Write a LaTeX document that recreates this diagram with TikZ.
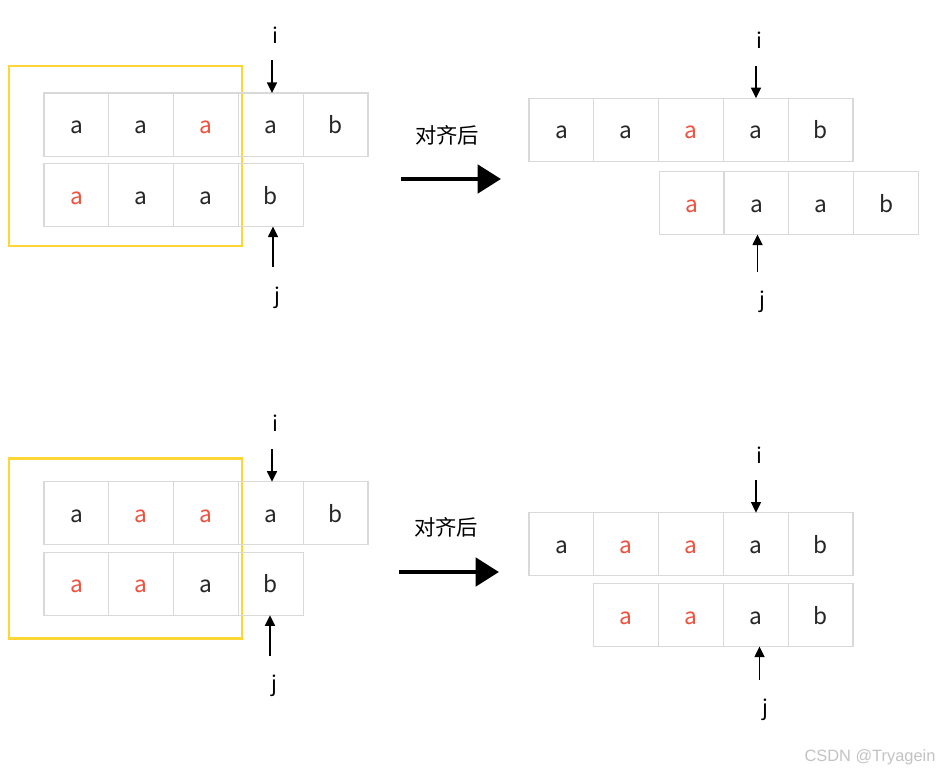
\documentclass[tikz,border=0pt]{standalone}
\usepackage{fontspec}
\setmainfont{Noto Sans CJK SC}
\newfontfamily\wmfont{Liberation Sans}
\usetikzlibrary{arrows.meta}
\definecolor{gridgray}{RGB}{217,217,217}
\definecolor{hlred}{RGB}{240,80,60}
\definecolor{boxyellow}{RGB}{255,214,51}
\definecolor{wmgray}{RGB}{195,195,195}
\tikzset{
  cell/.style={draw=gridgray, line width=0.8pt, minimum width=48.6pt, minimum height=47.3pt, inner sep=0pt, outer sep=0pt,
    text height=15pt, text depth=1.5pt, font=\fontsize{17}{20}\selectfont, text=black!85},
  red/.style={text=hlred},
  lbl/.style={font=\fontsize{16}{19}\selectfont, inner sep=0pt},
  ptr/.style={line width=1.2pt, -{Stealth[length=8pt,width=7.5pt,inset=0pt]}},
  bigarrow/.style={line width=3.6pt, -{Triangle[length=17.5pt,width=21pt]}},
  hlbox/.style={draw=boxyellow, line width=1.6pt},
}
\begin{document}
\begin{tikzpicture}[x=0.75pt,y=-0.75pt]
\useasboundingbox (0,0) rectangle (939,772);
\fill[white] (0,0) rectangle (939,772);

% ---------- Panel 1 ----------
\draw[hlbox] (9,66) rectangle (242,246);
\node[cell] (p1a1) at (76.4,124.5) {a};
\node[cell] (p1a2) at (141.2,124.5) {a};
\node[cell,red] (p1a3) at (206,124.5) {a};
\node[cell] (p1a4) at (270.8,124.5) {a};
\node[cell] (p1a5) at (335.6,124.5) {b};
\node[cell,red] (p1b1) at (76.4,195) {a};
\node[cell] (p1b2) at (141.2,195) {a};
\node[cell] (p1b3) at (206,195) {a};
\node[cell] (p1b4) at (270.8,195) {b};
\node[lbl] (p1i) at (275,35) {i};
\node[lbl] (p1j) at (277,298) {j};
\coordinate (p1is) at (272,60);
\coordinate (p1js) at (273,267);
\draw[ptr] (p1is) -- (p1is |- p1a4.north);
\draw[ptr] (p1js) -- (p1js |- p1b4.south);

% ---------- Arrow 1 ----------
\node[lbl] (t1) at (447,135) {对齐后};
\coordinate (a1s) at (401,179);
\coordinate (a1e) at (501,179);
\draw[bigarrow] (a1s) -- (a1e);

% ---------- Panel 2 ----------
\node[cell] (p2a1) at (561.4,129.8) {a};
\node[cell] (p2a2) at (626.2,129.8) {a};
\node[cell,red] (p2a3) at (691,129.8) {a};
\node[cell] (p2a4) at (755.8,129.8) {a};
\node[cell] (p2a5) at (820.6,129.8) {b};
\node[cell,red] (p2b1) at (691.6,203) {a};
\node[cell] (p2b2) at (756.4,203) {a};
\node[cell] (p2b3) at (821.2,203) {a};
\node[cell] (p2b4) at (886,203) {b};
\node[lbl] (p2i) at (759.5,40) {i};
\node[lbl] (p2j) at (762.5,302) {j};
\coordinate (p2is) at (756,66);
\coordinate (p2js) at (757.5,272);
\draw[ptr] (p2is) -- (p2is |- p2a4.north);
\draw[ptr] (p2js) -- (p2js |- p2b2.south);

% ---------- Panel 3 ----------
\draw[hlbox] (9,458.5) rectangle (242,638.5);
\node[cell] (p3a1) at (76.4,513.3) {a};
\node[cell,red] (p3a2) at (141.2,513.3) {a};
\node[cell,red] (p3a3) at (206,513.3) {a};
\node[cell] (p3a4) at (270.8,513.3) {a};
\node[cell] (p3a5) at (335.6,513.3) {b};
\node[cell,red] (p3b1) at (76.4,583.7) {a};
\node[cell,red] (p3b2) at (141.2,583.7) {a};
\node[cell] (p3b3) at (206,583.7) {a};
\node[cell] (p3b4) at (270.8,583.7) {b};
\node[lbl] (p3i) at (275,423) {i};
\node[lbl] (p3j) at (274,686) {j};
\coordinate (p3is) at (272,449);
\coordinate (p3js) at (270,656);
\draw[ptr] (p3is) -- (p3is |- p3a4.north);
\draw[ptr] (p3js) -- (p3js |- p3b4.south);

% ---------- Arrow 2 ----------
\node[lbl] (t2) at (446,527) {对齐后};
\coordinate (a2s) at (399,572);
\coordinate (a2e) at (499,572);
\draw[bigarrow] (a2s) -- (a2e);

% ---------- Panel 4 ----------
\node[cell] (p4a1) at (561.4,544.2) {a};
\node[cell,red] (p4a2) at (626.2,544.2) {a};
\node[cell,red] (p4a3) at (691,544.2) {a};
\node[cell] (p4a4) at (755.8,544.2) {a};
\node[cell] (p4a5) at (820.6,544.2) {b};
\node[cell,red] (p4b1) at (626.2,615) {a};
\node[cell,red] (p4b2) at (691,615) {a};
\node[cell] (p4b3) at (755.8,615) {a};
\node[cell] (p4b4) at (820.6,615) {b};
\node[lbl] (p4i) at (759.5,455) {i};
\node[lbl] (p4j) at (765,710) {j};
\coordinate (p4is) at (756,480);
\coordinate (p4js) at (759.5,680);
\draw[ptr] (p4is) -- (p4is |- p4a4.north);
\draw[ptr] (p4js) -- (p4js |- p4b3.south);

% ---------- Watermark ----------
\node[text=wmgray, font=\wmfont\fontsize{12.3}{14}\selectfont, inner sep=0pt] (wm) at (870,757) {CSDN @Tryagein};
\end{tikzpicture}
\end{document}
